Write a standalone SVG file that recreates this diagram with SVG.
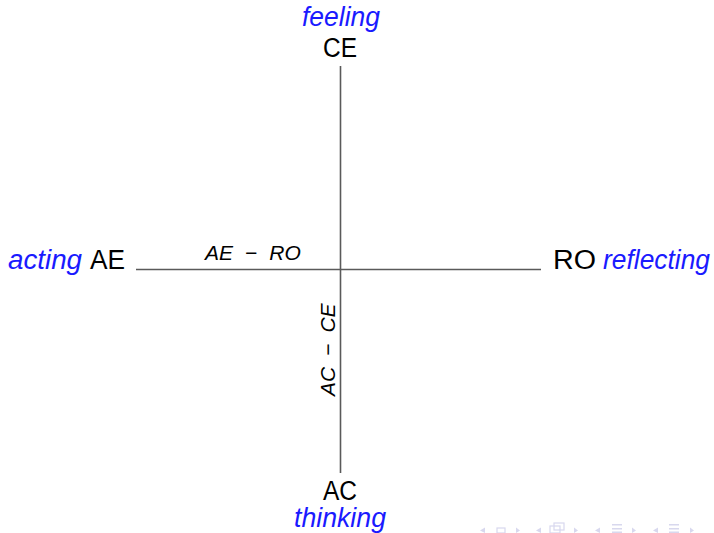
<svg xmlns="http://www.w3.org/2000/svg" width="714" height="533" viewBox="0 0 714 533">
<style>
.lbl{font-family:"Liberation Sans",Arial,sans-serif;font-size:27px;fill:#000}
.kw{font-family:"Liberation Sans",Arial,sans-serif;font-size:27px;font-style:italic;fill:#1a1aff}
.ax{font-family:"Liberation Sans",Arial,sans-serif;font-size:21px;font-style:italic;fill:#000}
.axis{stroke:#5a5a5a;stroke-width:1.6;fill:none}
.nav{fill:#d8d8ee;stroke:none}
.navs{fill:none;stroke:#d8d8ee;stroke-width:1.2}
</style>
<rect width="714" height="533" fill="#fff"/>
<g id="connectors">
<line class="axis" x1="340.5" y1="66" x2="340.5" y2="473"/>
<line class="axis" x1="136" y1="269.5" x2="541" y2="269.5"/>
</g>
<g id="CE">
<text class="kw" x="302" y="26" textLength="78" lengthAdjust="spacingAndGlyphs">feeling</text>
<text class="lbl" x="323" y="57" textLength="34" lengthAdjust="spacingAndGlyphs">CE</text>
</g>
<g id="AE">
<text class="kw" x="8" y="269" textLength="74" lengthAdjust="spacingAndGlyphs">acting</text>
<text class="lbl" x="90" y="269" textLength="35" lengthAdjust="spacingAndGlyphs">AE</text>
</g>
<g id="RO">
<text class="lbl" x="553" y="269" textLength="43" lengthAdjust="spacingAndGlyphs">RO</text>
<text class="kw" x="603" y="269" textLength="107" lengthAdjust="spacingAndGlyphs">reflecting</text>
</g>
<g id="AC">
<text class="lbl" x="323" y="500" textLength="34" lengthAdjust="spacingAndGlyphs">AC</text>
<text class="kw" x="294" y="527" textLength="92" lengthAdjust="spacingAndGlyphs">thinking</text>
</g>
<g id="axis-labels">
<text class="ax" x="205" y="260"><tspan>AE</tspan><tspan dx="12">−</tspan><tspan dx="12">RO</tspan></text>
<text class="ax" x="0" y="0" transform="translate(335,396) rotate(-90)"><tspan>AC</tspan><tspan dx="11">−</tspan><tspan dx="11">CE</tspan></text>
</g>
<g id="nav">
<polygon class="nav" points="480,530.5 485,527.5 485,533"/>
<rect class="navs" x="497" y="528" width="8" height="5"/>
<polygon class="nav" points="516,527.5 520,530.5 516,533"/>
<polygon class="nav" points="536,530.5 541,527.5 541,533"/>
<rect class="navs" x="550" y="526" width="10" height="7"/>
<rect class="navs" x="554" y="523" width="10" height="7"/>
<polygon class="nav" points="574,527.5 578,530.5 574,533"/>
<polygon class="nav" points="595,530.5 600,527.5 600,533"/>
<rect class="nav" x="612" y="524" width="10" height="1.5"/>
<rect class="nav" x="612" y="528" width="10" height="1.5"/>
<rect class="nav" x="612" y="531.5" width="10" height="1.5"/>
<polygon class="nav" points="632,527.5 636,530.5 632,533"/>
<polygon class="nav" points="653,530.5 658,527.5 658,533"/>
<rect class="nav" x="669" y="524" width="10" height="1.5"/>
<rect class="nav" x="669" y="528" width="10" height="1.5"/>
<rect class="nav" x="669" y="531.5" width="10" height="1.5"/>
<polygon class="nav" points="690,527.5 694,530.5 690,533"/>
</g>
</svg>
